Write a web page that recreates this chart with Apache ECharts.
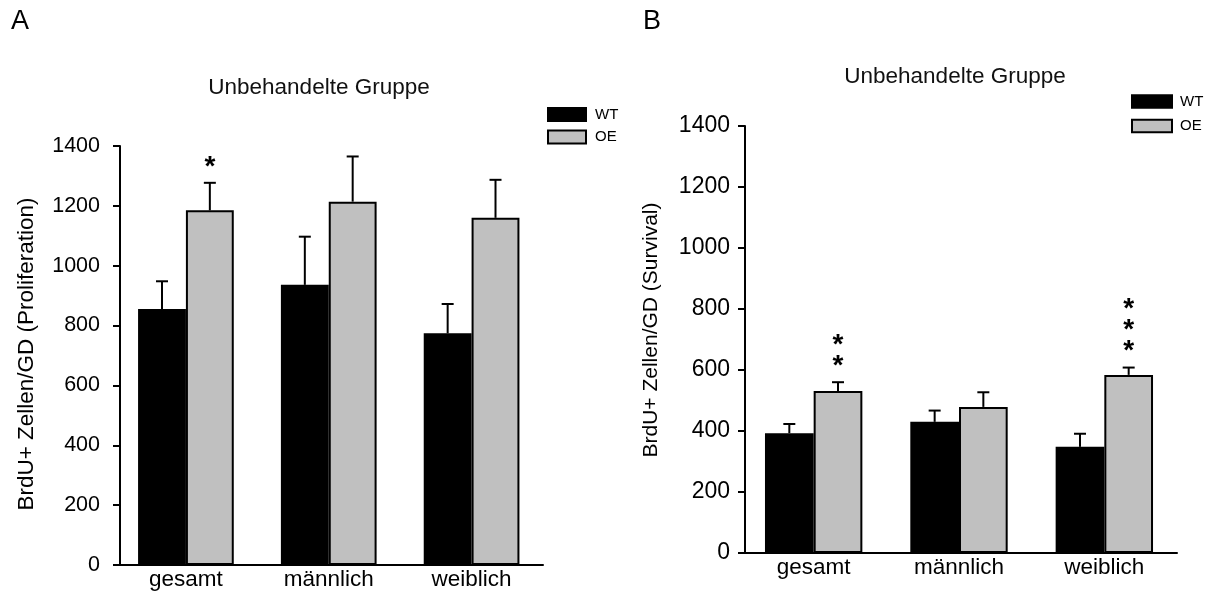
<!DOCTYPE html>
<html>
<head>
<meta charset="utf-8">
<script src="https://cdn.jsdelivr.net/npm/echarts@6/dist/echarts.min.js"></script>
<style>
html,body{margin:0;padding:0;background:#fff;}
#chart{width:1211px;height:592px;}
</style>
</head>
<body>
<div id="chart"></div>
<script>
// ---- data ----
const categories = ['gesamt', 'männlich', 'weiblich'];
const seriesNames = ['WT', 'OE'];
// Panel A: Proliferation
const aWT = [855, 936, 774];
const aWTErr = [93, 161, 98];
const aOE = [1185, 1214, 1160];
const aOEErr = [92, 151, 127];
const aStars = [1, 0, 0];
// Panel B: Survival
const bWT = [393, 430, 348];
const bWTErr = [30, 37, 43];
const bOE = [531, 479, 584];
const bOEErr = [29, 48, 24];
const bStars = [2, 0, 3];
// axis
const yMin = 0, yMax = 1400, yInterval = 200;
const titleText = 'Unbehandelte Gruppe';
const yTitleA = 'BrdU+ Zellen/GD (Proliferation)';
const yTitleB = 'BrdU+ Zellen/GD (Survival)';

const FONT = "'Liberation Sans', Arial, Helvetica, sans-serif";
const GAP = 0.33;

const chart = echarts.init(document.getElementById('chart'));

function errRender(side) {
  return function (params, api) {
    const ci = api.value(0), v = api.value(1), e = api.value(2);
    const band = api.size([1, 0])[0];
    const bw = band * (1 - GAP) / 2;
    const off = side * bw / 2;
    const p0 = api.coord([ci, v]);
    const p1 = api.coord([ci, v + e]);
    const x = p0[0] + off;
    return {
      type: 'group',
      children: [
        {type: 'line', shape: {x1: x, y1: p0[1], x2: x, y2: p1[1]}, style: {stroke: '#000', lineWidth: 2}},
        {type: 'line', shape: {x1: x - 6, y1: p1[1], x2: x + 6, y2: p1[1]}, style: {stroke: '#000', lineWidth: 2}}
      ]
    };
  };
}

function starRender(params, api) {
  const ci = api.value(0), top = api.value(1), n = api.value(2);
  const band = api.size([1, 0])[0];
  const bw = band * (1 - GAP) / 2;
  const p = api.coord([ci, top]);
  const x = p[0] + bw / 2;
  const children = [];
  for (let k = 0; k < n; k++) {
    children.push({
      type: 'text',
      style: {
        text: '*', x: x, y: p[1] - 16 - k * 21.3,
        align: 'center', verticalAlign: 'middle',
        font: 'bold 28px ' + FONT, fill: '#000'
      }
    });
  }
  return {type: 'group', children: children};
}

function yAxisCfg(gi, fs, margin, off) {
  return {
    type: 'value', gridIndex: gi, min: yMin, max: yMax, interval: yInterval, offset: off,
    axisLine: {show: true, lineStyle: {color: '#000', width: 2}},
    axisTick: {show: true, length: 7, lineStyle: {color: '#000', width: 2}},
    axisLabel: {color: '#000', fontSize: fs, fontFamily: FONT, margin: margin,
                formatter: (v) => String(v)},
    splitLine: {show: false}
  };
}
function xAxisCfg(gi) {
  return {
    type: 'category', gridIndex: gi, data: categories,
    axisLine: {show: true, lineStyle: {color: '#000', width: 2}},
    axisTick: {show: false},
    axisLabel: {color: '#000', fontSize: 22.5, fontFamily: FONT, margin: 3}
  };
}

function barSeries(name, idx, data, color) {
  return {
    name: name, type: 'bar', xAxisIndex: idx, yAxisIndex: idx, data: data,
    barGap: '0%', barCategoryGap: (GAP * 100) + '%',
    itemStyle: {color: color, borderColor: '#000', borderWidth: 2},
    animation: false
  };
}

function errSeries(idx, vals, errs, side) {
  return {
    type: 'custom', xAxisIndex: idx, yAxisIndex: idx,
    renderItem: errRender(side),
    data: categories.map((c, i) => [i, vals[i], errs[i]]),
    encode: {x: 0, y: 1}, z: 5, silent: true, animation: false
  };
}
function starSeries(idx, vals, errs, stars) {
  return {
    type: 'custom', xAxisIndex: idx, yAxisIndex: idx,
    renderItem: starRender,
    data: categories.map((c, i) => [i, vals[i] + errs[i], stars[i]]),
    encode: {x: 0, y: 1}, z: 6, silent: true, animation: false
  };
}

const option = {
  backgroundColor: '#fff',
  animation: false,
  title: [
    {text: titleText, left: 319, top: 76, textAlign: 'center', padding: 0,
     textStyle: {fontSize: 22.5, fontWeight: 'normal', color: '#111', fontFamily: FONT}},
    {text: titleText, left: 955, top: 65, textAlign: 'center', padding: 0,
     textStyle: {fontSize: 22.5, fontWeight: 'normal', color: '#111', fontFamily: FONT}}
  ],
  legend: [
    {data: seriesNames, orient: 'vertical', left: 547, top: 107, padding: 0,
     itemWidth: 38, itemHeight: 13, itemGap: 7.5, icon: 'rect',
     textStyle: {fontSize: 15, color: '#000', fontFamily: FONT, lineHeight: 13, padding: [0, 0, 0, 4]}},
    {data: seriesNames, orient: 'vertical', left: 1131, top: 94, padding: 0,
     itemWidth: 40, itemHeight: 12.7, itemGap: 9.5, icon: 'rect',
     textStyle: {fontSize: 15, color: '#000', fontFamily: FONT, lineHeight: 12.7, padding: [0, 0, 0, 3]}}
  ],
  grid: [
    {left: 114.5, top: 146, width: 428.5, height: 419},
    {left: 741, top: 126, width: 436, height: 427}
  ],
  xAxis: [xAxisCfg(0), xAxisCfg(1)],
  yAxis: [yAxisCfg(0, 21.5, 20, -5.5), yAxisCfg(1, 23, 15, -4)],
  graphic: [
    {type: 'text', left: 11, top: 8, style: {text: 'A', font: '27px ' + FONT, fill: '#000'}},
    {type: 'text', left: 643, top: 8, style: {text: 'B', font: '27px ' + FONT, fill: '#000'}},
    {type: 'text', x: 27, y: 354, rotation: Math.PI / 2,
     style: {text: yTitleA, font: '22.5px ' + FONT, fill: '#000', align: 'center', verticalAlign: 'middle'}},
    {type: 'text', x: 651, y: 330, rotation: Math.PI / 2,
     style: {text: yTitleB, font: '21px ' + FONT, fill: '#000', align: 'center', verticalAlign: 'middle'}}
  ],
  series: [
    barSeries('WT', 0, aWT, '#000'),
    barSeries('OE', 0, aOE, '#c0c0c0'),
    barSeries('WT', 1, bWT, '#000'),
    barSeries('OE', 1, bOE, '#c0c0c0'),
    errSeries(0, aWT, aWTErr, -1),
    errSeries(0, aOE, aOEErr, 1),
    errSeries(1, bWT, bWTErr, -1),
    errSeries(1, bOE, bOEErr, 1),
    starSeries(0, aOE, aOEErr, aStars),
    starSeries(1, bOE, bOEErr, bStars)
  ]
};
chart.setOption(option);
</script>
</body>
</html>
